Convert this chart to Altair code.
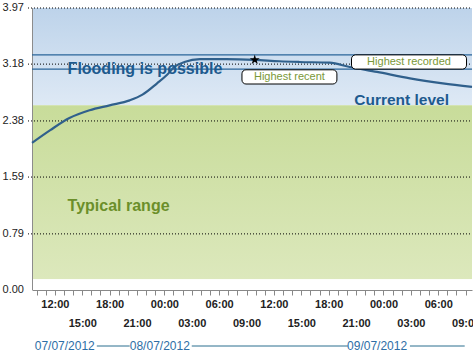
import altair as alt
import pandas as pd

# ---- data -------------------------------------------------------------
# hours counted from 07/07/2012 00:00
hours = [9.5, 11.5, 13.6, 15.8, 18.0, 20.2, 21.6, 23.2, 24.3, 25.1, 26.2,
         27.9, 30.8, 33.9, 36.6, 38.8, 42.1, 44.3, 47.3, 50.9, 54.5, 57.7]
levels = [2.07, 2.25, 2.42, 2.53, 2.60, 2.67, 2.75, 2.91, 3.03, 3.14, 3.21,
          3.25, 3.25, 3.24, 3.22, 3.21, 3.20, 3.14, 3.07, 2.98, 2.91, 2.86]

y_ticks = [0.0, 0.79, 1.59, 2.38, 3.18, 3.97]
y_tick_labels = ["0.00", "0.79", "1.59", "2.38", "3.18", "3.97"]
grid_values = [0.79, 1.59, 2.38, 3.18, 3.97]
label_row1 = [12, 18, 24, 30, 36, 42, 48, 54]
label_row2 = [15, 21, 27, 33, 39, 45, 51, 57]
hour_ticks = list(range(10, 58))

flood_top, flood_bottom = 3.97, 2.60
typical_top, typical_bottom = 2.60, 0.15

line_values = [3.31, 3.11]  # highest recorded / highest recent lines
star_hour, star_level = [33.9], [3.24]

box_names = ["Highest recent", "Highest recorded"]
box_x1 = [32.5, 44.5]
box_x2 = [42.9, 57.1]
box_y1 = [2.90, 3.11]
box_y2 = [3.10, 3.31]
box_cx = [37.7, 50.8]
box_cy = [3.00, 3.21]

zone_labels = ["Flooding is possible", "Current level", "Typical range"]
zone_x = [13.4, 44.8, 13.4]
zone_y = [3.11, 2.67, 1.18]
zone_colors = ["#1d5a8e", "#1d5a8e", "#6b8f2a"]
zone_sizes = [16, 15.5, 16]

date_labels = ["07/07/2012", "08/07/2012", "09/07/2012"]
date_x = [9.8, 23.5, 47.3]
date_align = ["left", "center", "center"]
dash_start = [16.6, 27.0, 50.9]
dash_end = [20.2, 44.1, 56.9]

# ---- frames -----------------------------------------------------------
df_line = pd.DataFrame({"h": hours, "v": levels})
df_bands = pd.DataFrame({"kind": ["flood", "typical", "low"],
                         "y": [flood_bottom, typical_bottom, 0.0],
                         "y2": [flood_top, typical_top, typical_bottom]})
df_grid = pd.DataFrame({"v": grid_values})
df_ylab = pd.DataFrame({"v": y_ticks, "t": y_tick_labels})
df_hl = pd.DataFrame({"v": line_values})
df_star = pd.DataFrame({"h": star_hour, "v": star_level})
df_box = pd.DataFrame({"name": box_names, "x1": box_x1, "x2": box_x2,
                       "y1": box_y1, "y2": box_y2, "cx": box_cx, "cy": box_cy})
df_zone = pd.DataFrame({"t": zone_labels, "h": zone_x, "v": zone_y,
                        "c": zone_colors, "s": zone_sizes})
df_date = pd.DataFrame({"t": date_labels, "h": date_x, "a": date_align})
df_dash = pd.DataFrame({"h": dash_start, "h2": dash_end})

W, H = 440, 282
xs = alt.Scale(domain=[9.5, 57.7], nice=False, zero=False)
ys = alt.Scale(domain=[0, 3.97], nice=False, zero=True)
FONT = "Liberation Sans"
hour_expr = "(datum.value % 24 < 10 ? '0' : '') + (datum.value % 24) + ':00'"

def yenc(field="v", **kw):
    return alt.Y(f"{field}:Q", scale=ys, axis=None, **kw)

def band(kind, fill):
    return alt.Chart(df_bands[df_bands.kind == kind]).mark_rect(color=fill).encode(
        x=alt.value(0), x2=alt.value(W), y=yenc("y"), y2="y2:Q")

# ---- layers -------------------------------------------------------------
blue = band("flood", alt.Gradient(gradient="linear", x1=0, y1=0, x2=0, y2=1,
            stops=[alt.GradientStop(color="#bdd3ea", offset=0),
                   alt.GradientStop(color="#dee9f5", offset=1)]))
green = band("typical", alt.Gradient(gradient="linear", x1=0, y1=0, x2=0, y2=1,
             stops=[alt.GradientStop(color="#c8dc9a", offset=0),
                    alt.GradientStop(color="#dce8bc", offset=1)]))
white = band("low", "white")

grid = alt.Chart(df_grid).mark_rule(color="black", strokeWidth=1,
                                    strokeDash=[1, 2]).encode(
    y=yenc("v"), x=alt.value(-4), x2=alt.value(W))

y_domain = alt.Chart(df_grid.head(1)).mark_rule(color="#8c8c8c", strokeWidth=1).encode(
    x=alt.value(0.5), y=alt.value(0), y2=alt.value(H))

y_labels = alt.Chart(df_ylab).mark_text(font=FONT, fontSize=11, color="#222222",
                                        align="right", baseline="middle").encode(
    x=alt.value(-8), y=yenc("v"), text="t:N")

hlines = alt.Chart(df_hl).mark_rule(color="#2a659a", strokeWidth=1.2).encode(
    y=yenc("v"), x=alt.value(0), x2=alt.value(W))

line = alt.Chart(df_line).mark_line(color="#30608c", strokeWidth=2.2,
                                    interpolate="monotone").encode(
    x=alt.X("h:Q", scale=xs, title=None,
            axis=alt.Axis(orient="bottom", values=hour_ticks, labels=False, grid=False,
                          tickSize=5, tickColor="#888888", domainColor="#888888",
                          zindex=1)),
    y=yenc("v"),
)

star_path = ("M0,-1L0.22,-0.31L0.95,-0.31L0.36,0.12L0.59,0.81L0,0.38"
             "L-0.59,0.81L-0.36,0.12L-0.95,-0.31L-0.22,-0.31Z")
star = alt.Chart(df_star).mark_point(shape=star_path, filled=True, color="black",
                                     size=110, opacity=1).encode(
    x=alt.X("h:Q", scale=xs, title=None,
            axis=alt.Axis(orient="bottom", values=label_row1, labelExpr=hour_expr,
                          ticks=False, domain=False, grid=False, labelPadding=8,
                          labelFont=FONT, labelFontSize=11, labelFontWeight="bold",
                          labelColor="#222222")),
    y=yenc("v"),
)

boxes = alt.Chart(df_box).mark_rect(fill="white", stroke="black", strokeWidth=1,
                                    cornerRadius=4).encode(
    x=alt.X("x1:Q", scale=xs, title=None,
            axis=alt.Axis(orient="bottom", values=label_row2, labelExpr=hour_expr,
                          ticks=False, domain=False, grid=False, labelPadding=27,
                          labelFont=FONT, labelFontSize=11, labelFontWeight="bold",
                          labelColor="#222222")),
    x2="x2:Q",
    y=yenc("y1"), y2="y2:Q",
)

box_text = alt.Chart(df_box).mark_text(font=FONT, fontSize=11, color="#7a9838",
                                       align="center", baseline="middle").encode(
    x=alt.X("cx:Q", scale=xs, axis=None), y=yenc("cy"), text="name:N")

zone_text = alt.Chart(df_zone).mark_text(font=FONT, fontWeight="bold",
                                         align="left", baseline="middle").encode(
    x=alt.X("h:Q", scale=xs, axis=None), y=yenc("v"),
    text="t:N", color=alt.Color("c:N", scale=None), size=alt.Size("s:Q", scale=None))

date_left = alt.Chart(df_date[df_date.a == "left"]).mark_text(
    font=FONT, fontSize=12, color="#2e6ea6", align="left", baseline="middle").encode(
    x=alt.X("h:Q", scale=xs, axis=None), y=alt.value(H + 56), text="t:N")
date_mid = alt.Chart(df_date[df_date.a == "center"]).mark_text(
    font=FONT, fontSize=12, color="#2e6ea6", align="center", baseline="middle").encode(
    x=alt.X("h:Q", scale=xs, axis=None), y=alt.value(H + 56), text="t:N")
dashes = alt.Chart(df_dash).mark_rule(color="#2a6f8f", strokeWidth=1).encode(
    x=alt.X("h:Q", scale=xs, axis=None), x2="h2:Q", y=alt.value(H + 56))

chart = alt.layer(
    blue, green, white, grid, y_domain, y_labels, line, hlines, star, boxes,
    box_text, zone_text, date_left, date_mid, dashes
).resolve_axis(x="independent").properties(
    width=W, height=H,
    padding={"left": 32, "top": 8, "right": 1, "bottom": 63},
    autosize=alt.AutoSizeParams(type="none"),
    background="white",
).configure_view(stroke=None)

chart.save("out.html", embed_options={"renderer": "svg", "actions": False})
